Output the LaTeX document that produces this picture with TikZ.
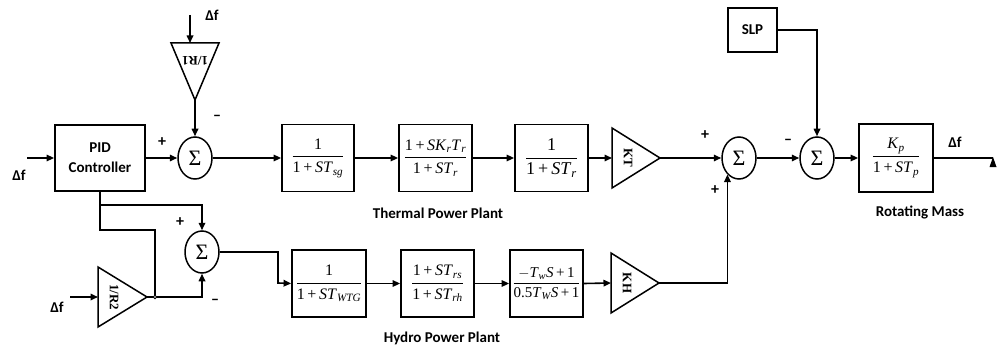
\documentclass[tikz,border=0pt]{standalone}
\usepackage{fontspec}
\usepackage{amsmath}
\setmainfont{Liberation Serif}
\newfontfamily\labfont{Carlito}
\usetikzlibrary{arrows.meta,calc,shapes.geometric}
\tikzset{
  blk/.style={draw, line width=1.8pt, rectangle, inner sep=0pt, minimum height=67pt, minimum width=73pt, font=\fontsize{16}{18}\selectfont},
  sumn/.style={draw, line width=1.5pt, ellipse, minimum width=34pt, minimum height=42pt, inner sep=0pt, font=\fontsize{22}{22}\selectfont},
  ln/.style={line width=1.6pt},
  arr/.style={line width=1.6pt, -{Triangle[length=7.5pt,width=6.5pt]}},
  tri/.style={draw, line width=1.5pt, line join=miter},
  lbl/.style={font=\labfont\bfseries\fontsize{15}{20}\selectfont},
  sgn/.style={font=\labfont\bfseries\fontsize{16}{16}\selectfont},
  trl/.style={font=\bfseries\fontsize{13}{13}\selectfont, inner sep=0pt},
}
\begin{document}
\begin{tikzpicture}[x=1pt,y=-1pt]
\useasboundingbox[fill=white] (0,0) rectangle (1006,350);

% ---------- blocks ----------
\node[blk, lbl, minimum width=90pt, minimum height=66pt, align=center] (pid) at (100,158) {PID\\Controller};
\node[blk, minimum width=72pt] (b1) at (318,158) {$\dfrac{\text{1}}{\text{1\,+\,\textit{ST}}_{\textit{sg}}}$};
\node[blk] (b2) at (435.5,158) {$\dfrac{\text{1\,+\,\textit{SK}}_{\textit{r}}\text{\textit{T}}_{\textit{r}}}{\text{1\,+\,\textit{ST}}_{\textit{r}}}$};
\node[blk, font=\fontsize{18}{20}\selectfont] (b3) at (551.5,158) {$\dfrac{\text{1}}{\text{1\,+\,\textit{ST}}_{\textit{r}}}$};
\node[blk, minimum width=74pt] (b4) at (329,283.5) {$\dfrac{\text{1}}{\text{1\,+\,\textit{ST}}_{\textit{WTG}}}$};
\node[blk] (b5) at (437.5,283.5) {$\dfrac{\text{1\,+\,\textit{ST}}_{\textit{rs}}}{\text{1\,+\,\textit{ST}}_{\textit{rh}}}$};
\node[blk, font=\fontsize{15}{17}\selectfont] (b6) at (546.5,283.5) {$\dfrac{\text{$-$\textit{T}}_{\textit{w}}\text{\textit{S}\,+\,1}}{\text{0.5\textit{T}}_{\textit{W}}\text{\textit{S}\,+\,1}}$};
\node[blk, minimum width=74pt, minimum height=68pt] (b7) at (896,158) {$\dfrac{\text{\textit{K}}_{\textit{p}}}{\text{1\,+\,\textit{ST}}_{\textit{p}}}$};
\node[blk, lbl, minimum width=49pt, minimum height=44pt] (slp) at (752.5,30) {SLP};

% ---------- summing junctions ----------
\node[sumn] (s1) at (195,158) {Σ};
\node[sumn] (s2) at (202,252) {Σ};
\node[sumn] (s3) at (739,158) {Σ};
\node[sumn] (s4) at (817,158) {Σ};

% ---------- gain triangles ----------
\coordinate (t1i) at (190,43); \coordinate (t1o) at (195,100);
\draw[tri] (171,43) -- (219,43) -- (t1o) -- cycle;
\node[trl, rotate=180] (t1l) at (195,61) {1/R1};

\coordinate (t2i) at (98,297); \coordinate (t2o) at (147,297);
\draw[tri] (98,267) -- (t2o) -- (98,327) -- cycle;
\node[trl, rotate=-90] (t2l) at (114,297) {1/R2};

\coordinate (kti) at (612,158); \coordinate (kto) at (660,158);
\draw[tri] (612,128) -- (kto) -- (612,188) -- cycle;
\node[trl, rotate=-90] (ktl) at (628,158) {KT};

\coordinate (khi) at (611,283); \coordinate (kho) at (659,283);
\draw[tri] (611,253) -- (kho) -- (611,313) -- cycle;
\node[trl, rotate=-90] (khl) at (627,283) {KH};

% ---------- helper points ----------
\coordinate (dfin) at (27,158);
\coordinate (dftop) at (190,15);
\coordinate (df2) at (70,297);
\coordinate (br) at (100,205);
\coordinate (pidc) at (100,230);
\coordinate (jn) at (155,297);
\coordinate (c2) at (278,283);
\coordinate (fout) at (993,158);

% ---------- connectors ----------
\draw[arr] (dfin) -- (pid.west);
\draw[arr] (pid.east) -- (s1.west);
\draw[arr] (dftop) -- (t1i);
\draw[arr] (t1o) -- (s1.north);
\draw[arr] (s1.east) -- (b1.west);
\draw[arr] (b1.east) -- (b2.west);
\draw[arr] (b2.east) -- (b3.west);
\draw[arr] (b3.east) -- (kti);
\draw[arr] (kto) -- (s3.west);
\draw[arr] (s3.east) -- (s4.west);
\draw[arr] (slp.east) -| (s4.north);
\draw[arr] (s4.east) -- (b7.west);
\draw[ln] (b7.east) -- (fout);
\fill ($(fout)+(-3.5,9)$) -- ($(fout)+(0,-1)$) -- ($(fout)+(3.5,9)$) -- cycle;

\draw[ln] (pid.south) -- (pidc) -| (jn);
\draw[arr] (br) -| (s2.north);
\draw[arr] (df2) -- (t2i);
\draw[ln] (t2o) -- (jn);
\draw[arr] (jn) -| (s2.south);
\draw[line width=0.8pt, fill=white] (jn) circle (1.8pt);
\draw[arr] (s2.east) -| (c2) -- (b4.west);
\draw[arr] (b4.east) -- (b5.west);
\draw[arr] (b5.east) -- (b6.west);
\draw[arr] (b6.east) -- (khi);
\draw[arr] (kho) -| (s3.235);

% ---------- signs ----------
\node[sgn] (p1) at (162,142) {+};
\node[sgn] (m1) at (217,118) {–};
\node[sgn] (p2) at (180,222) {+};
\node[sgn] (m2) at (215,302) {–};
\node[sgn] (p3) at (705,135) {+};
\node[sgn] (p4) at (715,190) {+};
\node[sgn] (m4) at (788,142) {–};

% ---------- labels ----------
\node[lbl] (l1) at (19,175) {Δf};
\node[lbl] (l2) at (212,15) {Δf};
\node[lbl] (l3) at (57,307) {Δf};
\node[lbl] (l4) at (955,142) {Δf};
\node[lbl] (thp) at (438,213) {Thermal Power Plant};
\node[lbl] (hyp) at (442,338) {Hydro Power Plant};
\node[lbl] (rot) at (920,212) {Rotating Mass};
\end{tikzpicture}
\end{document}
